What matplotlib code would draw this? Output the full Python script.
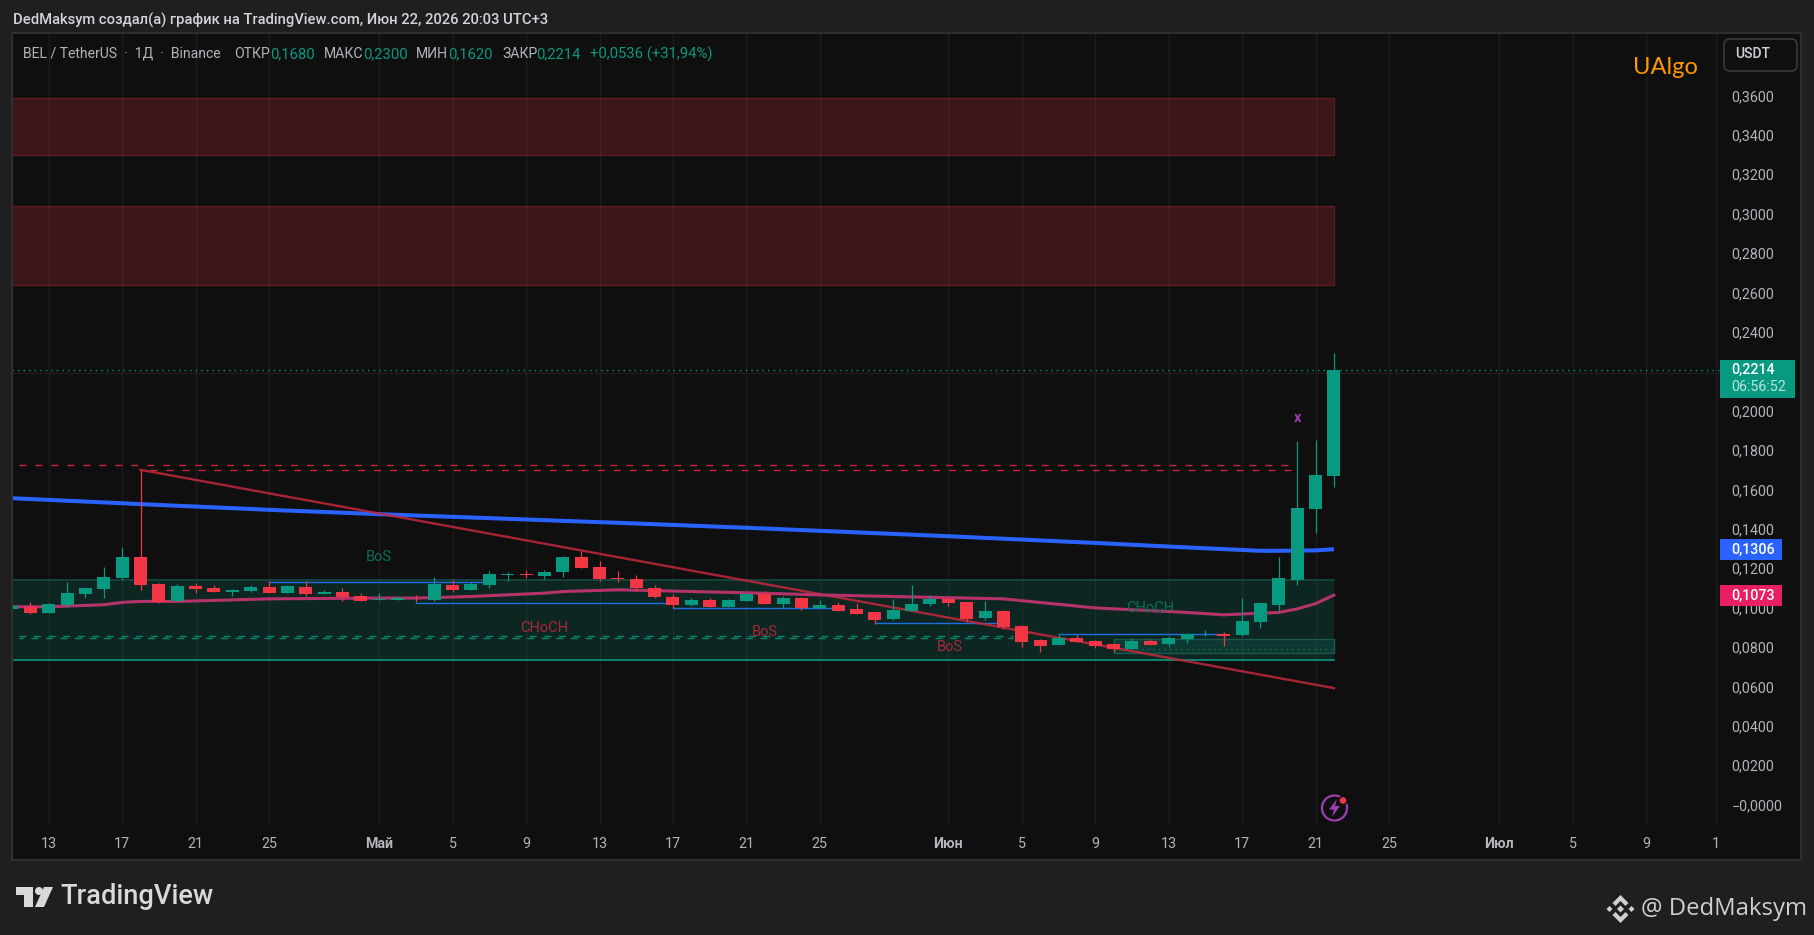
import matplotlib
matplotlib.use("Agg")
import matplotlib.pyplot as plt
from matplotlib.patches import Rectangle, FancyBboxPatch, Polygon, Circle
from matplotlib.transforms import Affine2D, ScaledTranslation

W, H = 1814, 935
plt.rcParams['font.family'] = ['Roboto', 'DejaVu Sans']

# ---- data ---- (day number: 0 = 13 April)
days = list(range(-2, 71))
opens = [.1003,.1014,.0981,.1022,.1078,.1103,.1159,.1266,.1129,.1042,.1118,.1108,.1088,.1093,.1113,.1083,.1113,.1078,.1088,.1068,.1047,.1047,.1058,
         .1047,.1124,.1098,.1124,.1174,.1179,.1169,.1190,.1266,.1215,.1159,.1157,.1107,.1061,.1025,.1046,.1015,.1041,.1081,.1030,.1056,.1008,.1023,
         .1003,.0987,.0952,.0992,.1028,.1053,.1038,.0957,.0992,.0916,.0845,.0820,.0855,.0840,.0825,.0800,.0840,.0825,.0850,.0869,.0876,.0870,.0936,.1022,.1149,.1509,.1680]
closes = [.1017,.0983,.1027,.1083,.1108,.1164,.1266,.1124,.1036,.1118,.1103,.1088,.1098,.1113,.1083,.1118,.1078,.1088,.1063,.1042,.1052,.1058,.1056,
          .1129,.1098,.1129,.1179,.1178,.1174,.1190,.1266,.1210,.1154,.1154,.1107,.1061,.1025,.1046,.1015,.1046,.1081,.1030,.1056,.1010,.1023,.0992,
          .0977,.0947,.0997,.1028,.1053,.1033,.0952,.0992,.0911,.0835,.0815,.0855,.0835,.0815,.0800,.0840,.0820,.0855,.0876,.0872,.0866,.0941,.1032,.1159,.1514,.1682,.2214]
highs = [.1020,.1036,.1032,.1139,.1112,.1215,.1316,.1709,.1134,.1127,.1134,.1124,.1103,.1124,.1144,.1124,.1144,.1098,.1108,.1083,.1083,.1068,.1073,
         .1164,.1149,.1139,.1195,.1190,.1200,.1200,.1271,.1296,.1245,.1195,.1173,.1122,.1081,.1056,.1056,.1051,.1085,.1096,.1066,.1061,.1048,.1038,
         .1033,.0987,.1053,.1122,.1074,.1053,.1038,.1043,.0997,.0921,.0850,.0875,.0870,.0845,.0830,.0855,.0850,.0865,.0881,.0896,.0886,.1058,.1032,.1266,.1854,.1860,.2300]
lows = [.1000,.0976,.0981,.1014,.1058,.1058,.1151,.1098,.1032,.1042,.1083,.1088,.1068,.1091,.1083,.1083,.1068,.1078,.1042,.1042,.1047,.1047,.1036,
        .1042,.1088,.1098,.1108,.1144,.1159,.1154,.1164,.1210,.1144,.1139,.1096,.1056,.1008,.1020,.1015,.1015,.1041,.1030,.1010,.1000,.1008,.0992,
        .0977,.0926,.0947,.0992,.1018,.1018,.0937,.0947,.0901,.0810,.0784,.0820,.0835,.0805,.0784,.0800,.0820,.0815,.0830,.0866,.0815,.0865,.0905,.0992,.1124,.1387,.1620]

ema_days = [-2, 5, 12, 18, 31, 38, 49, 57, 62, 66, 67, 69, 70]
ema_vals = [.1565,.1535,.1506,.1484,.1440,.1415,.1372,.1338,.1315,.1298,.1298,.1300,.1306]
sma_days = [-2, 0, 3, 4, 5, 7, 12, 18, 20, 23, 27, 28, 31, 38, 42, 47, 52, 57, 62, 64, 67, 68, 69, 70]
sma_vals = [.1014,.1014,.1024,.1036,.1041,.1041,.1054,.1058,.1058,.1066,.1083,.1091,.1100,.1085,.1074,.1064,.1054,.1008,.0985,.0973,.0985,.1003,.1030,.1073]
trend_days = [5, 70]
trend_vals = [.1709, .0601]

red_zones = [(.3307, .3596), (.2648, .3048)]
green_zone = (.0742, .1150)
inner_zone = (58, 70, .0781, .0849)
inner_dotted = .0798
zone_days = (-2, 70)
dash_up = (-1.6, 67.7, .1731)
dash_low = (5.5, 68, .1706)
dash_g1 = (-1.6, 52.5, .0863)
dash_g2 = (-1.6, 52.5, .0853)
struct_lines = [(12, 24, .1142), (20, 34, .1033), (34, 43, .1007), (45, 52, .0930), (55, 64, .0874)]
labels_up = [("BoS", 18, .1268), ("CHoCH", 60, .1007)]
labels_dn = [("CHoCH", 27, .0907), ("BoS", 39, .0885), ("BoS", 49.1, .0808)]
sweep_mark = ("x", 68, .1972)

ytick_vals = [round(i * .02, 2) for i in range(0, 19) if i != 11]
ytick_labels = ["\u22120,0000" if v == 0 else f"{v:.4f}".replace(".", ",") for v in ytick_vals]
grid_y = [round(i * .02, 2) for i in range(0, 19)]
xtick_days = [0,4,8,12,18,22,26,30,34,38,42,49,53,57,61,65,69,73,79,83,87,90.8]
xtick_labels = ["13","17","21","25","Май","5","9","13","17","21","25","Июн","5","9","13","17","21","25","Июл","5","9","1"]
bold_x = {"Май", "Июн", "Июл"}

last_close = .2214
legend_labels = [("BEL / TetherUS  ·  1Д  ·  Binance", 23), ("ОТКР", 234), ("МАКС", 324), ("МИН", 416), ("ЗАКР", 502)]
legend_values = [("0,1680", 270), ("0,2300", 363), ("0,1620", 448), ("0,2214", 536), ("+0,0536 (+31,94%)", 590)]

# ---- colours ----
BG_OUT, BG_IN, BORDER, GRID = "#1f1f1f", "#0f0f0f", "#2e2e2e", "#1d1d1d"
UP, DOWN, BLUE, PINK, TREND, TXT = "#089981", "#f23645", "#2962ff", "#b5336a", "#c4283c", "#b2b5bc"
PURPLE = "#9c3fb0"

fig = plt.figure(figsize=(W / 100, H / 100), dpi=100, facecolor=BG_OUT)
px = Affine2D().scale(1 / W, -1 / H).translate(0, 1) + fig.transFigure

L, R, T, B = 13, 1719, 34, 825
ax = fig.add_axes([L / W, 1 - B / H, (R - L) / W, (B - T) / H], facecolor=BG_IN)
ax.set_xlim((L - 48.7) / 18.36, (R - 48.7) / 18.36)
ax.set_ylim((806.5 - B) / 1970, (806.5 - T) / 1970)
for s in ax.spines.values():
    s.set_visible(False)

# panel behind axis strips
fig.add_artist(Rectangle((L - 1, T - 1), 1801 - L + 1, 859 - T + 2, transform=px, fc=BG_IN, ec=BORDER, lw=1.5, zorder=-5))

ax.set_axisbelow(True)
ax.set_yticks(ytick_vals, ytick_labels)
ax.set_yticks(grid_y, minor=True)
ax.yaxis.tick_right()
ax.tick_params(axis='y', which='major', length=0, pad=9, labelsize=10.3, labelcolor=TXT)
ax.tick_params(axis='y', which='minor', length=0)
up2 = ScaledTranslation(0, 2 / 100, fig.dpi_scale_trans)
for t in ax.get_yticklabels():
    t.set_transform(t.get_transform() + up2)
ax.set_xticks(xtick_days, xtick_labels)
ax.tick_params(axis='x', length=0, pad=9, labelsize=10.3, labelcolor=TXT)
for t in ax.get_xticklabels():
    if t.get_text() in bold_x:
        t.set_fontweight("bold")
ax.grid(True, which='major', axis='x', color=GRID, lw=1)
ax.grid(True, which='minor', axis='y', color=GRID, lw=1)

# zones
for lo, hi in red_zones:
    ax.add_patch(Rectangle((zone_days[0], lo), zone_days[1] - zone_days[0], hi - lo, fc=(.95, .21, .27, .2), ec=(.95, .21, .27, .28), lw=1, zorder=1))
ax.add_patch(Rectangle((zone_days[0], green_zone[0]), zone_days[1] - zone_days[0], green_zone[1] - green_zone[0], fc=(.03, .6, .5, .17), ec="none", zorder=1))
ax.plot(zone_days, [green_zone[1]] * 2, color="#174a40", lw=1.2, zorder=1.1)
ax.plot(zone_days, [green_zone[0]] * 2, color=UP, lw=1.2, zorder=1.1)
ax.add_patch(Rectangle((inner_zone[0], inner_zone[2]), inner_zone[1] - inner_zone[0], inner_zone[3] - inner_zone[2], fc=(.03, .6, .5, .17), ec="#1b5a4f", lw=1, zorder=1.2))
ax.plot(inner_zone[:2], [inner_dotted] * 2, color="#1b6b5c", lw=1, ls=(0, (1, 3)), zorder=1.3)

# dashed levels
for a, b, v in (dash_up, dash_low):
    ax.plot([a, b], [v, v], color="#c4283c", lw=1, ls=(0, (5, 6.5)), zorder=2)
ax.plot(dash_g1[:2], [dash_g1[2]] * 2, color=UP, lw=1, alpha=.85, ls=(0, (5, 5.5)), zorder=2)
ax.plot(dash_g2[:2], [dash_g2[2]] * 2, color=UP, lw=1, alpha=.85, ls=(2, (5, 5.5)), zorder=2)

ax.plot([zone_days[0], 91], [last_close] * 2, color=UP, lw=1, ls=(0, (1, 3)), zorder=2)

for a, b, v in struct_lines:
    ax.plot([a, b], [v, v], color="#1f6fe0", lw=1, zorder=2.2)

ax.plot(ema_days, ema_vals, color=BLUE, lw=2.9, zorder=3, solid_capstyle='butt')
ax.plot(trend_days, trend_vals, color=TREND, lw=1.7, alpha=.85, zorder=3.1)
ax.plot(sma_days, sma_vals, color=PINK, lw=2.2, zorder=3.2)

# candles
colors = [UP if c >= o else DOWN for o, c in zip(opens, closes)]
ax.vlines(days, lows, highs, colors=colors, lw=.9, zorder=4)
ax.bar(days, [max(abs(c - o), .00025) for o, c in zip(opens, closes)], bottom=[min(o, c) for o, c in zip(opens, closes)],
       width=.71, color=colors, linewidth=0, zorder=4.1)

for s, d, v in labels_up:
    ax.text(d, v, s, color="#0b6e5d", fontsize=10.5, ha='center', va='center', zorder=5)
for s, d, v in labels_dn:
    ax.text(d, v, s, color="#a8283a", fontsize=10.5, ha='center', va='center', zorder=5)
ax.text(sweep_mark[1], sweep_mark[2], sweep_mark[0], color=PURPLE, fontsize=10.5, fontweight='bold', ha='center', va='center', zorder=5)

# ---- chrome in pixel coordinates ----
def T_(x, y, s, **kw):
    kw.setdefault('va', 'center')
    return fig.text(x, y, s, transform=px, zorder=20, **kw)

def P_(patch):
    patch.set_transform(px)
    patch.set_clip_on(False)
    patch.set_zorder(19)
    fig.add_artist(patch)

T_(13, 20, "DedMaksym создал(а) график на TradingView.com, Июн 22, 2026 20:03 UTC+3", color="#d1d4dc", fontsize=10.6, fontweight='medium')
for s, x in legend_labels:
    T_(x, 54, s, color=TXT, fontsize=10.1)
for s, x in legend_values:
    T_(x, 54, s, color=UP, fontsize=10.7)
T_(1633, 67, "UAlgo", color="#ff9800", fontsize=17, family=['Lato', 'DejaVu Sans'])

P_(FancyBboxPatch((1730, 45), 61, 20, boxstyle="round,pad=6,rounding_size=6", fc=BG_IN, ec="#3a3a3a", lw=1.2))
T_(1735, 54, "USDT", color="#d1d4dc", fontsize=10, fontweight='medium')

P_(Rectangle((1720, 360), 75, 38, fc=UP, ec="none"))
T_(1731, 370, "0,2214", color="#ffffff", fontsize=10.3, fontweight='medium')
T_(1731, 387, "06:56:52", color="#b8e6dc", fontsize=10.3)
P_(Rectangle((1720, 539), 62, 21, fc=BLUE, ec="none"))
T_(1731, 549.5, "0,1306", color="#ffffff", fontsize=10.3, fontweight='medium')
P_(Rectangle((1720, 585), 62, 21, fc="#e91e63", ec="none"))
T_(1731, 595.5, "0,1073", color="#ffffff", fontsize=10.3, fontweight='medium')

# lightning icon
P_(Circle((1334.5, 808), 12.5, fc="none", ec=PURPLE, lw=1.6))
P_(Polygon([(1337, 799), (1329, 809.5), (1334, 809.5), (1332, 817), (1340, 806), (1335, 806)], closed=True, fc=PURPLE, ec="none"))
P_(Circle((1343, 800.5), 4, fc=DOWN, ec=BG_IN, lw=1))

# TradingView logo
LOGO = "#d9d9d9"
P_(Polygon([(16, 887), (33, 887), (33, 907), (24, 907), (24, 895), (16, 895)], closed=True, fc=LOGO, ec="none"))
P_(Circle((39, 891), 4, fc=LOGO, ec="none"))
P_(Polygon([(44, 887), (53, 887), (44, 907), (35, 907)], closed=True, fc=LOGO, ec="none"))
T_(60, 897, "TradingView", color=LOGO, fontsize=19.6, fontweight='medium')

# Binance-style mark and author
BN = "#cfcfcf"
cx, cy = 1620.5, 909
P_(Polygon([(cx, cy - 14), (cx + 8, cy - 6), (cx + 5, cy - 3), (cx, cy - 8), (cx - 5, cy - 3), (cx - 8, cy - 6)], closed=True, fc=BN, ec="none"))
P_(Polygon([(cx, cy + 14), (cx + 8, cy + 6), (cx + 5, cy + 3), (cx, cy + 8), (cx - 5, cy + 3), (cx - 8, cy + 6)], closed=True, fc=BN, ec="none"))
for dx in (-11, 11):
    P_(Polygon([(cx + dx - 3, cy), (cx + dx, cy - 3), (cx + dx + 3, cy), (cx + dx, cy + 3)], closed=True, fc=BN, ec="none"))
P_(Polygon([(cx - 3.5, cy), (cx, cy - 3.5), (cx + 3.5, cy), (cx, cy + 3.5)], closed=True, fc=BN, ec="none"))
T_(1641, 909, "@ DedMaksym", color=BN, fontsize=17.2, family=['Open Sans', 'DejaVu Sans'])

fig.savefig("out.png", dpi=100, facecolor=BG_OUT)
